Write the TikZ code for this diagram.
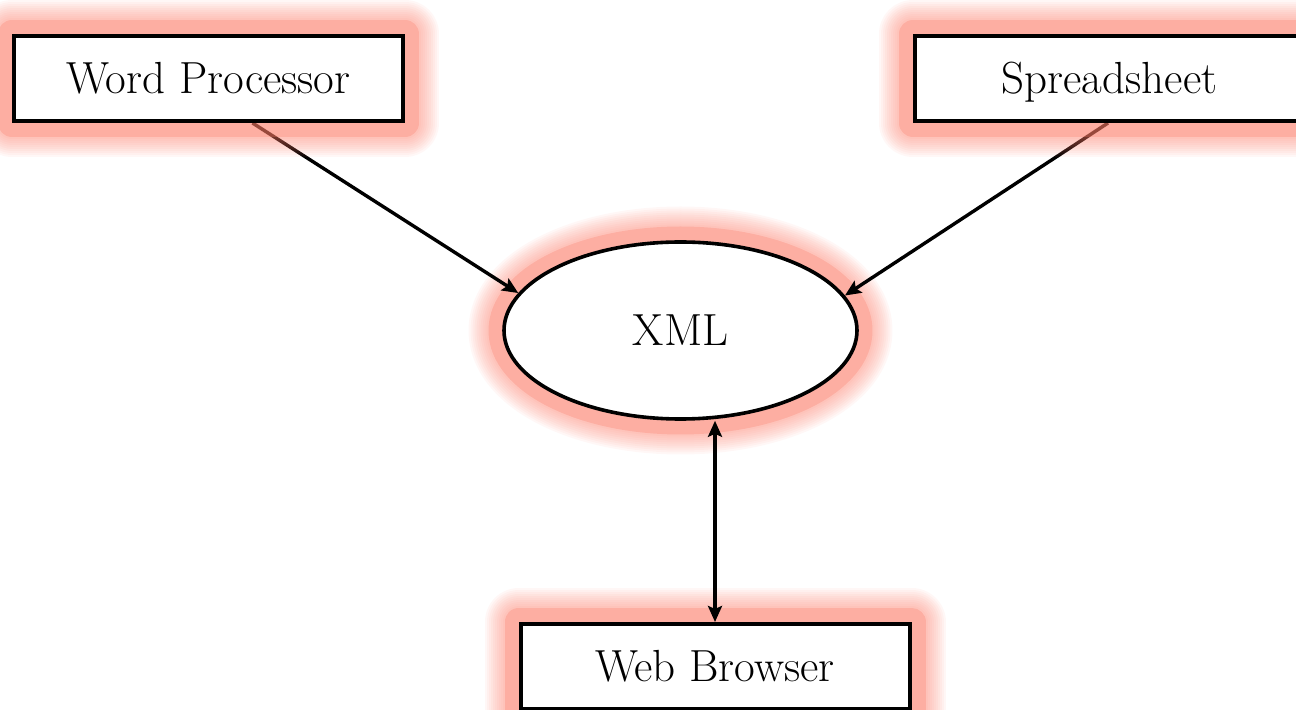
\documentclass[tikz,border=0pt]{standalone}
\usetikzlibrary{shapes.geometric,arrows.meta}
\definecolor{glowc}{RGB}{252,123,104}
\pgfdeclarelayer{glowA}
\pgfdeclarelayer{edges}
\pgfdeclarelayer{glowB}
\pgfsetlayers{glowA,edges,glowB,main}
\tikzset{
  lbl/.style={font=\fontsize{22.5}{27}\selectfont, text height=15pt, text depth=0pt, inner sep=0pt},
  box/.style={lbl, draw=black, line width=2pt, fill=white, minimum width=194.5pt, minimum height=42.5pt},
  oval/.style={lbl, ellipse, draw=black, line width=1.8pt, fill=white, minimum width=176.5pt, minimum height=88.5pt},
  conn/.style={line width=1.7pt, -{Stealth[length=8pt,width=7pt,inset=1.5pt]}},
  dconn/.style={line width=1.7pt, {Stealth[length=8pt,width=7pt,inset=1.5pt]}-{Stealth[length=8pt,width=7pt,inset=1.5pt]}},
  glowcore/.style={draw=glowc, draw opacity=0.3, line join=round, line width=14pt},
  glowfade/.style={draw=glowc, draw opacity=0.06, line join=round, line width=#1}
}
\begin{document}
\begin{tikzpicture}[x=0.5pt,y=-0.5pt]
\clip (0,0) rectangle (1296,710);
\node[box]  (wp)  at (208.5,78.5) {Word Processor};
\node[box]  (ss)  at (1109.5,78.5) {Spreadsheet};
\node[oval] (xml) at (680.5,330.5) {XML};
\node[box]  (wb)  at (715,666.5) {Web Browser};
\begin{pgfonlayer}{glowA}
  \draw[glowcore] (xml.center) ellipse [x radius=89pt, y radius=45pt];
  \draw[glowcore] (wb.north west) rectangle (wb.south east);
  \foreach \w in {16,18,...,34} {
    \draw[glowfade=\w pt] (xml.center) ellipse [x radius=89pt, y radius=45pt];
    \draw[glowfade=\w pt] (wb.north west) rectangle (wb.south east);
  }
\end{pgfonlayer}
\begin{pgfonlayer}{glowB}
  \draw[glowcore] (wp.north west) rectangle (wp.south east);
  \draw[glowcore] (ss.north west) rectangle (ss.south east);
  \foreach \w in {16,18,...,34} {
    \draw[glowfade=\w pt] (wp.north west) rectangle (wp.south east);
    \draw[glowfade=\w pt] (ss.north west) rectangle (ss.south east);
  }
\end{pgfonlayer}
\begin{pgfonlayer}{edges}
  \draw[conn] ([xshift=22pt]wp.south) -- (xml.167);
  \draw[conn] ([xshift=-0.75pt]ss.south) -- (xml.12);
  \draw[dconn] (wb.north) -- (wb.north |- xml.south);
\end{pgfonlayer}
\end{tikzpicture}
\end{document}
